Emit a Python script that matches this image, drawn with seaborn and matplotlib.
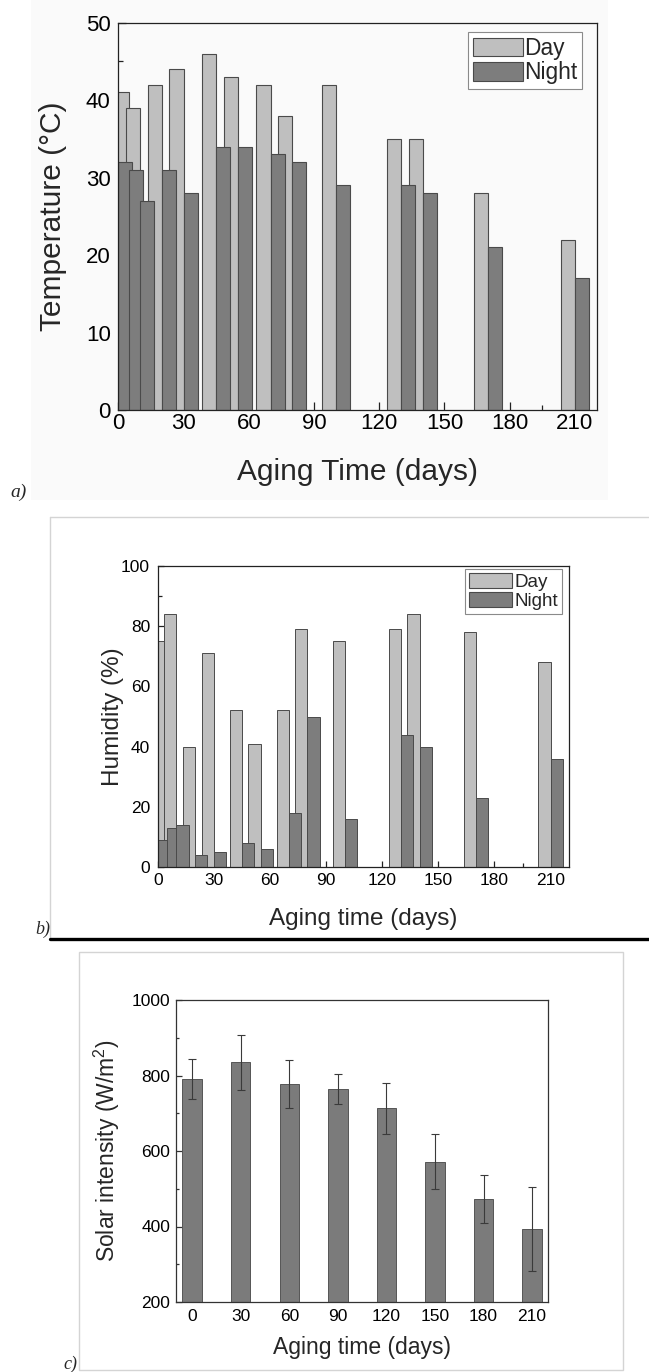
import numpy as np
import pandas as pd
import matplotlib
matplotlib.use("Agg")
import matplotlib.pyplot as plt
import seaborn as sns
from matplotlib.ticker import MultipleLocator
from matplotlib.patches import Rectangle
from matplotlib.lines import Line2D

sns.set_theme(style="ticks")
plt.rcParams["font.family"] = ["Liberation Sans", "DejaVu Sans"]
plt.rcParams["mathtext.default"] = "regular"

# ---------------- data ----------------
days = [0, 5, 10, 20, 30, 45, 55, 70, 80, 100, 130, 140, 170, 210]
temp_day = [np.nan, 41, 39, 42, 44, 46, 43, 42, 38, 42, 35, 35, 28, 22]
temp_night = [32, 31, 27, 31, 28, 34, 34, 33, 32, 29, 29, 28, 21, 17]
hum_day = [np.nan, 75, 84, 40, 71, 52, 41, 52, 79, 75, 79, 84, 78, 68]
hum_night = [9, 13, 14, 4, 5, 8, 6, 18, 50, 16, 44, 40, 23, 36]
periods = ["Day", "Night"]
solar_days = [0, 30, 60, 90, 120, 150, 180, 210]
solar_mean = [792, 835, 777, 764, 713, 572, 473, 393]
solar_err = [53, 73, 64, 40, 67, 73, 64, 112]

DAY_C, NIGHT_C, EDGE_C = "#bfbfbf", "#7d7d7d", "#4a4a4a"
palette = {"Day": DAY_C, "Night": NIGHT_C}

W, H = 649, 1372
fig = plt.figure(figsize=(W / 100, H / 100), dpi=100)
fig.patch.set_facecolor("white")


def fr(x, y):
    return x / W, 1 - y / H


def axes_px(l, t, r, b):
    return fig.add_axes([l / W, 1 - b / H, (r - l) / W, (b - t) / H])


def long_df(day_vals, night_vals):
    df = pd.DataFrame({
        "days": days * 2,
        "value": list(day_vals) + list(night_vals),
        "period": [periods[0]] * len(days) + [periods[1]] * len(days),
    })
    return df.dropna()


def style_axes(ax, tick_fs, major, minor, maj_len, min_len, padx, pady, spine_c="#222222"):
    for s in ax.spines.values():
        s.set_visible(True)
        s.set_color(spine_c)
        s.set_linewidth(0.9)
    ax.tick_params(which="both", direction="in", top=False, right=False, colors=spine_c,
                   labelcolor="black", labelsize=tick_fs, width=0.9)
    ax.tick_params(which="major", length=maj_len)
    ax.tick_params(which="minor", length=min_len)
    ax.tick_params(axis="x", which="both", pad=padx)
    ax.tick_params(axis="y", which="both", pad=pady)
    ax.set_facecolor("none")
    ax.grid(False)


# faint background of panel a
fig.add_artist(Rectangle(fr(31, 500), 577 / W, 500 / H, transform=fig.transFigure,
                         facecolor="#fafafa", edgecolor="none", zorder=-5))

# ---------------- panel a ----------------
axa = axes_px(118.3, 22.7, 596.7, 410)
sns.barplot(data=long_df(temp_day, temp_night), x="days", y="value", hue="period",
            hue_order=periods, palette=palette, native_scale=True, width=2.6,
            dodge=True, errorbar=None, edgecolor=EDGE_C, linewidth=0.8,
            saturation=1, legend=False, ax=axa)
axa.set_xlim(0, 220)
axa.set_ylim(0, 50)
axa.xaxis.set_major_locator(MultipleLocator(30))
axa.xaxis.set_minor_locator(MultipleLocator(15))
axa.yaxis.set_major_locator(MultipleLocator(10))
axa.yaxis.set_minor_locator(MultipleLocator(5))
style_axes(axa, 16, 30, 15, 5.5, 3.5, 2.0, 5.5)
axa.set_xlabel("Aging Time (days)", fontsize=21.5)
axa.set_ylabel("Temperature (\u00b0C)", fontsize=21.5)
axa.xaxis.set_label_coords(0.5, -0.159)
axa.xaxis.label.set_va("center")
axa.yaxis.set_label_coords(-0.1365, 0.5)
axa.yaxis.label.set_va("center")
handles = [Rectangle((0, 0), 1, 1, facecolor=palette[p], edgecolor=EDGE_C, linewidth=0.8)
           for p in periods]
lega = axa.legend(handles, periods, loc="upper right", bbox_to_anchor=(0.9686, 0.9752),
                  borderaxespad=0, fontsize=16.4, handlelength=2.2, handleheight=0.9,
                  handletextpad=0.05, labelspacing=0.05, borderpad=0.2, fancybox=False,
                  frameon=True, framealpha=1)
lega.get_frame().set_edgecolor("#8a8a8a")
lega.get_frame().set_linewidth(0.8)

fig.text(*fr(10, 492), "a)", fontsize=14, family="Liberation Serif", style="italic",
         va="center", ha="left")

# ---------------- panel b ----------------
axb = axes_px(157.7, 565.7, 569.3, 867.3)
sns.barplot(data=long_df(hum_day, hum_night), x="days", y="value", hue="period",
            hue_order=periods, palette=palette, native_scale=True, width=2.6,
            dodge=True, errorbar=None, edgecolor=EDGE_C, linewidth=0.7,
            saturation=1, legend=False, ax=axb)
axb.set_xlim(0, 220)
axb.set_ylim(0, 100)
axb.xaxis.set_major_locator(MultipleLocator(30))
axb.xaxis.set_minor_locator(MultipleLocator(15))
axb.yaxis.set_major_locator(MultipleLocator(20))
axb.yaxis.set_minor_locator(MultipleLocator(10))
style_axes(axb, 12.5, 30, 15, 4.5, 3, 4.0, 5.5)
axb.set_xlabel("Aging time (days)", fontsize=17.5)
axb.set_ylabel("Humidity (%)", fontsize=17.5)
axb.xaxis.set_label_coords(0.5, -0.171)
axb.xaxis.label.set_va("center")
axb.yaxis.set_label_coords(-0.1086, 0.5)
axb.yaxis.label.set_va("center")
legb = axb.legend(handles, periods, loc="upper right", bbox_to_anchor=(0.983, 0.988),
                  borderaxespad=0, fontsize=13.6, handlelength=2.3, handleheight=0.85,
                  handletextpad=0.15, labelspacing=0.05, borderpad=0.2, fancybox=False,
                  frameon=True, framealpha=1)
legb.get_frame().set_edgecolor("#8a8a8a")
legb.get_frame().set_linewidth(0.8)

# frame of panel b + black separator
fig.add_artist(Line2D([50 / W, 50 / W], [1 - 517 / H, 1 - 939 / H], transform=fig.transFigure,
                      color="#d4d4d4", lw=1.0))
fig.add_artist(Line2D([50 / W, 1.0], [1 - 517 / H, 1 - 517 / H], transform=fig.transFigure,
                      color="#d4d4d4", lw=1.0))
fig.add_artist(Line2D([50 / W, 1.0], [1 - 939 / H, 1 - 939 / H], transform=fig.transFigure,
                      color="black", lw=2.4))
fig.text(*fr(35, 929), "b)", fontsize=13, family="Liberation Serif", style="italic",
         va="center", ha="left")

# ---------------- panel c ----------------
fig.add_artist(Rectangle(fr(78.6, 1370), (623 - 78.6) / W, (1370 - 951.7) / H,
                         transform=fig.transFigure, facecolor="none",
                         edgecolor="#d4d4d4", lw=1.0))
axc = axes_px(176, 1000, 548.3, 1302)
sns.barplot(x=solar_days, y=solar_mean, native_scale=True, width=0.4,
            color="#7b7b7b", saturation=1, errorbar=None, edgecolor="#555555",
            linewidth=0.7, ax=axc)
axc.errorbar(solar_days, solar_mean, yerr=solar_err, fmt="none", ecolor="#3a3a3a",
             elinewidth=0.8, capsize=3, capthick=0.8)
axc.set_xlim(-10, 220)
axc.set_ylim(200, 1000)
axc.set_xticks(solar_days)
axc.yaxis.set_major_locator(MultipleLocator(200))
axc.yaxis.set_minor_locator(MultipleLocator(100))
style_axes(axc, 12.5, None, None, 4, 2.5, 5.0, 4.3, spine_c="#333333")
axc.tick_params(axis="x", which="both", length=0)
axc.set_xlabel("Aging time (days)", fontsize=16.5)
axc.set_ylabel("Solar intensity (W/m$^2$)", fontsize=16.5)
axc.xaxis.set_label_coords(0.5, -0.152)
axc.xaxis.label.set_va("center")
axc.yaxis.set_label_coords(-0.1855, 0.5)
axc.yaxis.label.set_va("center")
fig.text(*fr(63, 1364), "c)", fontsize=13, family="Liberation Serif", style="italic",
         va="center", ha="left")

fig.savefig("out.png", dpi=100)
